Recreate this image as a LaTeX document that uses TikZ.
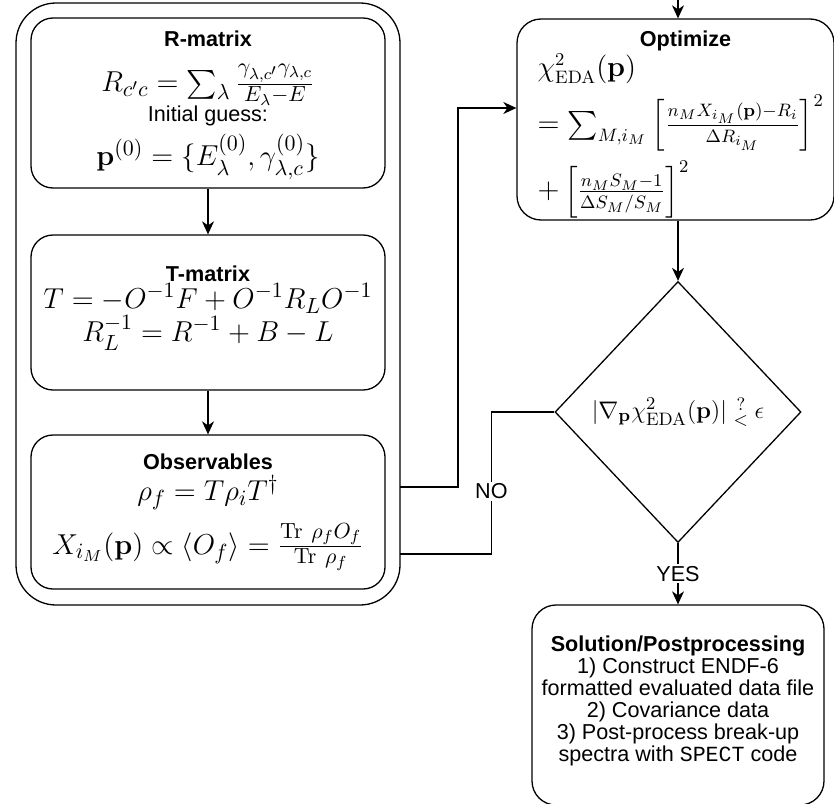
\documentclass[tikz,border=0pt]{standalone}
\usepackage{amsmath}
\usepackage[no-math]{fontspec}
\setmainfont{Liberation Sans}
\setmonofont{Liberation Mono}
\usetikzlibrary{arrows.meta,positioning,shapes.geometric}

\newcommand{\formula}[2][15.5]{\mbox{\fontsize{#1}{#1}\selectfont$#2$}}
% rows with fixed baseline distances
\newcommand{\rows}[1]{\vbox{\offinterlineskip\halign{\hfil##\hfil\cr#1\crcr}}}
\newcommand{\skiprow}[1]{\cr\noalign{\vskip#1}}

\begin{document}
\begin{tikzpicture}[x=0.5pt,y=-0.5pt,node distance=100pt,on grid,
line width=0.65pt,>={Stealth[length=6.5pt,width=6pt,inset=2pt]},
every node/.style={font=\fontsize{10.8}{15}\selectfont},
frame/.style={draw,rounded corners=20pt,minimum width=192pt,minimum height=301pt},
block/.style={draw,rounded corners=11pt,align=center,inner sep=0pt,
    minimum width=177pt},
decision/.style={draw,diamond,inner sep=0pt,minimum width=123pt,
    minimum height=130.5pt},
tag/.style={fill=white,inner sep=1pt}]
\useasboundingbox (0,0) rectangle (834,803);

% left column
\node[frame] (frame) at (208,304) {};
\node[block,minimum height=85pt] (rmat) at (208,103)
  {\rows{\rule{0pt}{3.2pt}\smash{\textbf{R-matrix}}\skiprow{22.5pt}
   \smash{\formula{R_{c'c}=\sum_\lambda\frac{\gamma_{\lambda,c'}\gamma_{\lambda,c}}{E_\lambda-E}}}\skiprow{15pt}
   \smash{Initial guess:}\skiprow{22pt}
   \smash{\formula{\mathbf{p}^{(0)}=\{E_\lambda^{(0)},\gamma_{\lambda,c}^{(0)}\}}}}};
\node[block,minimum height=77.5pt] (tmat) [below=104.75pt of rmat]
  {\rows{\smash{\textbf{T-matrix}}\skiprow{13.5pt}
   \smash{\formula{T=-O^{-1}F+O^{-1}R_LO^{-1}}}\skiprow{16.5pt}
   \smash{\formula{R_L^{-1}=R^{-1}+B-L}}\rule[-1.5pt]{0pt}{0pt}}};
\node[block,minimum height=77pt] (obs) [below=99.75pt of tmat]
  {\rows{\smash{\textbf{Observables}}\skiprow{15.85pt}
   \smash{\formula{\rho_f=T\rho_iT^\dagger}}\skiprow{26.65pt}
   \smash{\formula{X_{i_M}(\mathbf{p})\propto\langle O_f\rangle=\frac{\mathrm{Tr}\ \rho_fO_f}{\mathrm{Tr}\ \rho_f}}}\rule[-0.5pt]{0pt}{0pt}}};

% right column
\node[block,rounded corners=12pt,minimum width=158.5pt,minimum height=100.5pt,
  text width=138pt,align=left] (opt) at (675.5,119.5)
  {\rule{0pt}{12.5pt}\makebox[148pt]{\textbf{Optimize}}\\
   \formula[13.5]{\chi^2_{\mathrm{EDA}}(\mathbf{p})}\\[4.5pt]
   \formula[13.5]{=\sum_{M,i_M}\left[\frac{n_MX_{i_M}(\mathbf{p})-R_i}{\Delta R_{i_M}}\right]^2}\\[3.5pt]
   \formula[13.5]{+\left[\frac{n_MS_M-1}{\Delta S_M/S_M}\right]^2}};
\node[decision] (test) at (678,412)
  {\formula[12.5]{|\nabla_{\mathbf{p}}\chi^2_{\mathrm{EDA}}(\mathbf{p})|\mathrel{\substack{?\\<}}\epsilon}};
\node[block,rounded corners=12pt,minimum width=146pt,minimum height=100pt,
  font=\fontsize{10.8}{11}\selectfont] (sol) at (678,705)
  {\textbf{Solution/Postprocessing}\\
   1) Construct ENDF-6\\
   formatted evaluated data file\\
   2) Covariance data\\
   3) Post-process break-up\\
   spectra with \texttt{SPECT} code\rule[-6pt]{0pt}{6pt}};

\coordinate (entry) at (678,-2);
\coordinate (fout) at (400,487);
\coordinate (fin) at (400,554);

\draw[->] (rmat) -- (tmat);
\draw[->] (tmat) -- (obs);
\draw[->] (entry) -- (entry |- opt.north);
\draw[->] (fout) -- ++(58,0) |- ([yshift=5.75pt]opt.west);
\draw[->] (test.north |- opt.south) -- (test.north);
\draw (test.west) -- ++(-63,0) |- node[tag,pos=0.28] {NO} (fin);
\draw[->] (test.south) -- node[tag] {YES} (sol.north);
\end{tikzpicture}
\end{document}
